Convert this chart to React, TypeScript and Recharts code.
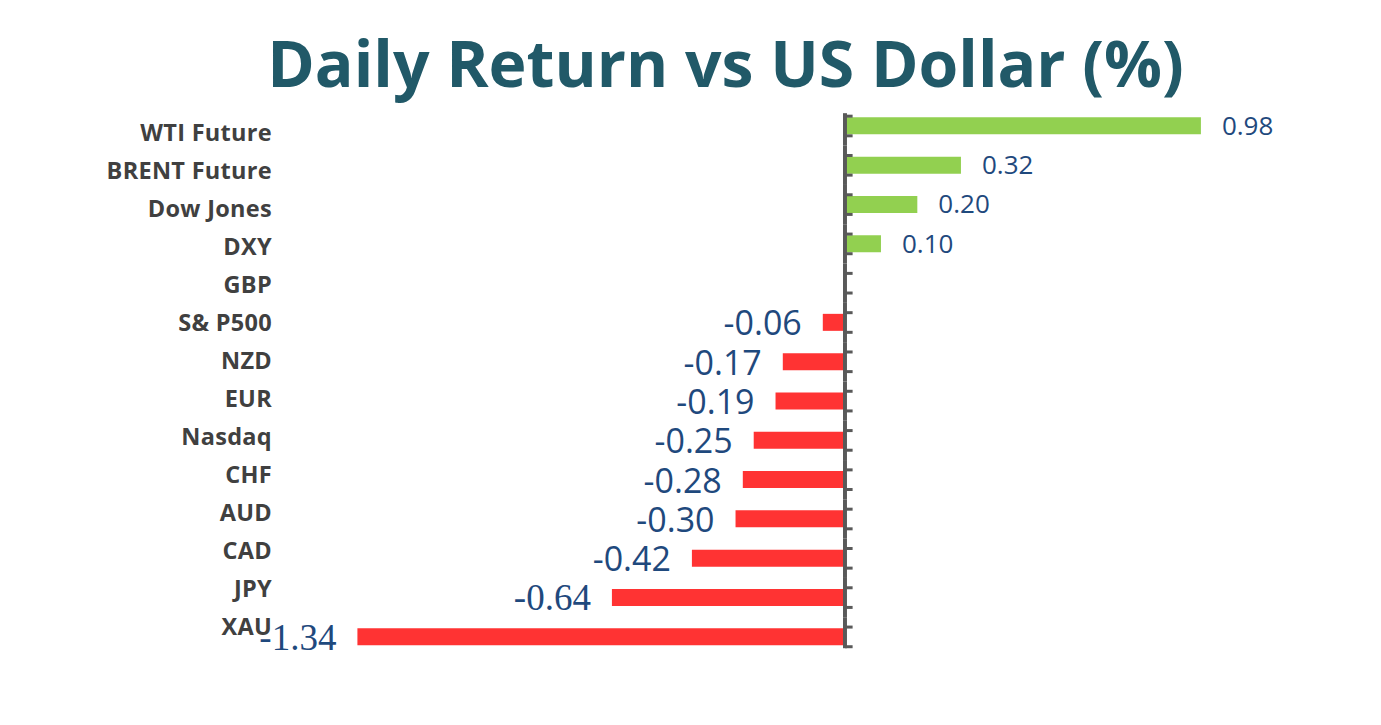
import React from 'react';
import { BarChart, Bar, XAxis, YAxis, Cell, LabelList, ReferenceLine } from 'recharts';

const categories = ['WTI Future', 'BRENT Future', 'Dow Jones', 'DXY', 'GBP', 'S& P500', 'NZD', 'EUR', 'Nasdaq', 'CHF', 'AUD', 'CAD', 'JPY', 'XAU'];
const returns = [0.98, 0.32, 0.2, 0.1, 0, -0.06, -0.17, -0.19, -0.25, -0.28, -0.3, -0.42, -0.64, -1.34];
const title = 'Daily Return vs US Dollar (%)';

const data = categories.map((name, i) => ({ name, value: returns[i] }));
const n = categories.length;

const CHART_W = 1365;
const CHART_H = 700;
const MARGIN = { top: 98.35, right: 92.1, bottom: 51.45, left: 0 };
const BAND = (CHART_H - MARGIN.top - MARGIN.bottom) / n;

const GREEN = '#92D050';
const RED = '#FF3333';
const AXIS = '#595959';
const LABEL_BLUE = '#1F497D';

const CategoryTick = (props: any) => {
  const { x, y, payload, index } = props;
  const shift = 7 - (17 * index) / (n - 1);
  return (
    <text
      x={x}
      y={y + shift + 8}
      textAnchor="end"
      fill="#404040"
      fontFamily="'Open Sans'"
      fontWeight={700}
      fontSize={23.5}
      letterSpacing={0.3}
    >
      {payload.value}
    </text>
  );
};

const ValueLabel = (props: any) => {
  const { x, y, width, height, value, index } = props;
  if (!value) return null;
  const left = Math.min(x, x + width);
  const right = Math.max(x, x + width);
  const cy = y + height / 2;
  const text = Number(value).toFixed(2);
  if (value > 0) {
    return (
      <text x={right + 21} y={cy + 9} textAnchor="start" fill={LABEL_BLUE} fontFamily="'Open Sans'" fontSize={26}>
        {text}
      </text>
    );
  }
  const serif = index >= 11;
  return (
    <text
      x={left - 21}
      y={cy + 13}
      textAnchor="end"
      fill={LABEL_BLUE}
      fontFamily={serif ? "'Liberation Serif'" : "'Open Sans'"}
      fontSize={serif ? 37 : 34}
    >
      {text}
    </text>
  );
};

// One band of the zero axis: axis piece plus two tick stubs at +-quarter band
const AxisBand = (props: any) => {
  const { x1, y1, x2, isFirst, isLast } = props;
  const q = BAND / 4;
  const top = isFirst ? y1 - q - 3 : y1 - BAND / 2;
  const bottom = isLast ? y1 + q + 1.5 : y1 + BAND / 2;
  return (
    <g>
      <line x1={x1} y1={top} x2={x1} y2={bottom} stroke={AXIS} strokeWidth={4} />
      <line x1={x1} y1={y1 - q} x2={x2} y2={y1 - q} stroke={AXIS} strokeWidth={3} />
      <line x1={x1} y1={y1 + q} x2={x2} y2={y1 + q} stroke={AXIS} strokeWidth={3} />
    </g>
  );
};

export default function App() {
  return (
    <div style={{ position: 'relative', width: CHART_W, height: CHART_H, background: '#fff' }}>
      <div
        style={{
          position: 'absolute',
          left: 0,
          top: 22,
          width: 1435,
          textAlign: 'center',
          fontFamily: "'Open Sans'",
          fontWeight: 700,
          fontSize: 64.3,
          lineHeight: '65px',
          color: '#215968',
          whiteSpace: 'nowrap',
        }}
      >
        {title}
      </div>
      <BarChart width={CHART_W} height={CHART_H} data={data} layout="vertical" margin={MARGIN} barSize={17}>
        <XAxis type="number" domain={[-1.4, 1.2]} allowDataOverflow hide />
        <YAxis
          yAxisId="cat"
          type="category"
          dataKey="name"
          width={327.6}
          axisLine={false}
          tickLine={false}
          tickSize={0}
          tickMargin={63.6}
          interval={0}
          tick={<CategoryTick />}
        />
        <Bar yAxisId="cat" dataKey="value" isAnimationActive={false}>
          {data.map((d, i) => (
            <Cell key={i} fill={d.value >= 0 ? GREEN : RED} />
          ))}
          <LabelList dataKey="value" content={<ValueLabel />} />
        </Bar>
        {categories.map((c, i) => (
          <ReferenceLine
            key={c}
            yAxisId="cat"
            segment={[
              { x: 0.001, y: c },
              { x: 0.022, y: c },
            ]}
            ifOverflow="visible"
            shape={(sp: any) => <AxisBand {...sp} isFirst={i === 0} isLast={i === n - 1} />}
          />
        ))}
      </BarChart>
    </div>
  );
}
